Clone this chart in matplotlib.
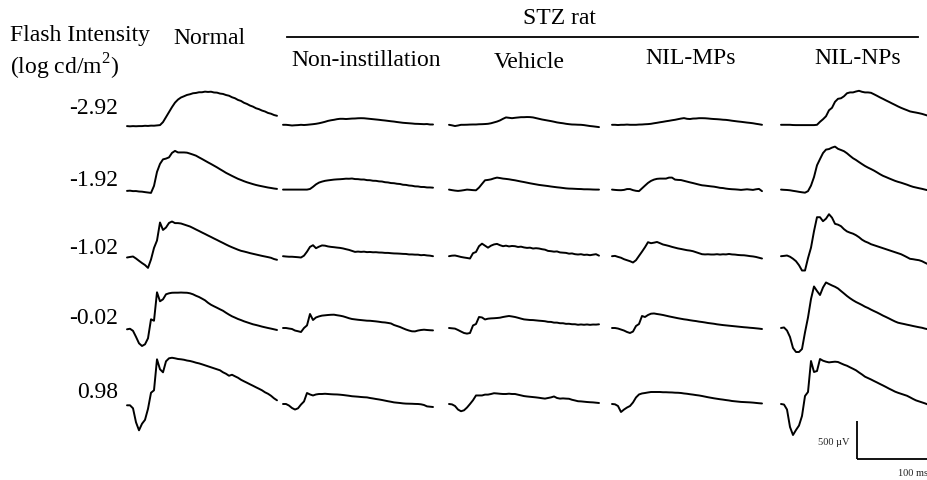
import numpy as np
import matplotlib
matplotlib.use("Agg")
import matplotlib.pyplot as plt

plt.rcParams['font.family'] = ['Liberation Serif', 'DejaVu Serif']
plt.rcParams['mathtext.fontset'] = 'custom'
plt.rcParams['mathtext.rm'] = 'Liberation Serif'

# ---------------- data ----------------
groups = ["Normal", "Non-instillation", "Vehicle", "NIL-MPs", "NIL-NPs"]
flash_intensity = ["-2.92", "-1.92", "-1.02", "-0.02", "0.98"]
sample_ms = 2.5  # sampling interval of the traces (ms)

# amplitudes in µV, one sample every 2.5 ms
normal_r1 = [0,-3,0,-2,0,0,4,2,6,5,9,13,52,117,182,247,305,345,372,388,405,414,427,431,440,440,448,444,447,437,435,423,418,404,395,375,362,340,327,303,288,267,253,232,220,202,190,171,161,144,134]
normal_r2 = [0,3,-3,-2,-8,-10,-16,-21,-26,65,247,351,410,420,436,494,520,500,500,500,497,485,472,458,436,415,393,371,350,328,306,282,259,235,215,195,176,157,142,126,112,100,88,77,68,60,52,44,38,31,26]
normal_r3 = [0,7,13,-13,-43,-72,-98,-135,-26,124,221,455,358,390,449,468,447,447,442,429,416,403,384,364,345,325,306,286,267,247,228,208,189,169,150,133,117,101,87,78,68,57,48,39,30,21,13,5,-4,-20,-30]
normal_r4 = [0,7,-20,-98,-182,-217,-195,-117,130,111,481,364,390,455,468,475,476,476,478,476,475,468,455,436,420,399,377,345,319,299,280,260,241,215,191,169,152,134,120,104,91,78,65,56,46,35,26,17,9,0,-9]
normal_r5 = [0,0,-39,-221,-325,-240,-189,-46,163,195,598,468,429,572,611,618,611,602,598,592,582,576,566,554,545,533,520,507,494,481,468,455,429,410,384,397,377,358,332,312,293,273,254,234,215,195,169,150,124,91,65]

noninst_r1 = [0,0,-4,-9,-6,-4,0,-3,0,4,8,13,20,29,39,51,59,65,73,78,78,75,78,81,82,85,86,85,81,77,73,69,65,60,56,51,46,42,36,31,26,23,20,17,13,12,10,8,10,4,4]
noninst_r2 = [0,0,0,0,0,0,0,0,0,8,36,68,91,104,114,120,125,130,133,135,138,142,141,144,137,136,131,131,123,122,115,114,107,105,96,93,85,83,76,73,63,61,53,50,42,41,34,34,28,28,25]
noninst_r3 = [0,-4,-7,-7,-10,-13,-17,7,59,121,143,104,124,140,137,127,121,117,112,108,101,91,82,69,56,60,56,59,53,55,51,52,48,47,43,43,39,36,35,33,30,29,23,23,20,20,13,16,10,7,0]
noninst_r4 = [0,0,-7,-13,-33,-42,-52,0,34,182,104,137,151,161,165,169,172,173,166,160,152,140,127,117,112,107,103,99,95,94,90,86,81,75,72,66,59,39,26,13,-4,-20,-33,-43,-44,-33,-26,-22,-26,-29,-31]
noninst_r5 = [0,0,-20,-52,-72,-56,-7,33,143,124,111,124,130,130,133,130,127,125,124,121,117,112,107,101,98,95,91,88,86,78,72,65,59,52,44,36,29,21,17,13,8,5,4,3,1,0,-4,-13,-31,-35,-39]

vehicle_r1 = [0,-7,-16,-9,0,0,1,3,4,4,7,8,10,13,20,31,42,57,78,96,91,86,91,95,99,99,101,100,96,87,78,69,62,55,48,40,31,25,20,13,8,4,3,1,0,-4,-10,-16,-20,-25,-30]
vehicle_r2 = [0,-7,-13,-17,-13,-7,0,-3,-7,-9,26,74,121,126,133,146,156,150,143,139,134,127,121,113,105,98,90,82,75,68,61,56,51,46,40,35,30,26,21,16,13,12,10,8,7,4,4,3,1,0,0]
vehicle_r3 = [0,7,9,0,-10,-17,-23,-30,39,55,130,163,137,111,137,153,160,143,130,137,127,133,130,120,124,114,108,111,100,104,100,91,85,69,65,59,62,49,46,43,33,36,26,22,26,17,20,13,20,26,7]
vehicle_r4 = [0,-4,-8,-26,-46,-65,-73,-65,33,52,143,137,111,121,125,127,130,134,143,150,156,150,143,133,122,112,108,104,103,99,95,92,88,80,79,70,70,62,62,54,55,49,49,42,46,42,46,41,45,44,48]
vehicle_r5 = [0,-5,-26,-72,-94,-82,-46,0,49,111,111,111,122,122,130,140,137,133,130,130,134,130,130,121,112,103,98,94,90,86,81,75,70,78,86,98,78,70,73,70,68,55,46,36,34,30,26,23,21,17,13]

mps_r1 = [0,0,-3,0,0,3,0,0,0,3,4,7,9,13,20,26,33,39,46,52,59,65,73,81,87,78,75,81,82,86,86,85,82,78,75,73,70,66,64,59,53,48,43,39,34,29,25,20,13,7,0]
mps_r2 = [0,-4,-7,-8,-4,7,7,-7,-16,-20,16,52,87,113,130,140,143,143,143,156,156,130,126,124,114,104,94,85,75,65,56,52,47,42,38,31,23,20,13,8,5,3,0,-4,0,4,0,-4,4,9,-20]
mps_r3 = [0,4,-9,-20,-39,-52,-65,-82,-52,4,59,117,182,169,176,185,169,152,143,133,121,111,101,94,86,78,73,65,52,39,26,23,25,22,22,26,21,25,23,29,23,21,16,13,12,7,1,-3,-10,-20,-30]
mps_r4 = [0,0,-7,-20,-33,-52,-65,-46,26,52,156,143,169,186,189,182,176,169,160,151,143,135,127,120,113,108,101,95,90,83,78,72,65,60,55,48,43,38,34,30,26,22,18,14,10,7,3,0,-4,-8,-13]
mps_r5 = [0,-4,-26,-104,-72,-46,-26,20,85,124,137,143,150,156,156,156,156,153,153,151,150,147,146,143,137,133,127,122,116,111,104,96,88,81,74,68,62,57,51,46,39,35,31,27,25,23,21,18,14,10,7]

nps_r1 = [0,0,0,0,-3,-4,-4,-4,-4,-4,-4,-4,0,39,72,111,189,221,299,338,345,371,410,421,421,433,442,429,421,421,416,397,377,356,337,317,298,278,259,239,221,205,190,174,166,159,151,142,130,118,111]
nps_r2 = [0,-3,-5,-9,-16,-22,-29,-35,-40,-20,52,163,316,397,475,520,527,546,559,530,515,499,472,439,408,385,358,332,307,286,267,247,224,200,179,163,146,130,114,101,90,77,64,49,36,27,18,10,0,-9,-13]
nps_r3 = [0,4,9,-7,-33,-65,-117,-186,-186,-26,111,325,507,507,455,488,546,501,421,410,390,351,322,306,293,273,247,215,192,176,156,143,130,117,104,91,78,65,52,39,26,7,-13,-34,-39,-46,-52,-65,-85,-104,-117]
nps_r4 = [0,7,-33,-117,-260,-312,-312,-273,-57,137,377,540,481,429,527,592,572,553,536,514,481,449,416,387,361,338,319,299,277,260,239,220,202,182,161,143,124,104,85,69,60,52,43,35,26,18,10,3,-8,-16,-22]
nps_r5 = [0,-7,-72,-299,-403,-338,-280,-156,104,156,559,416,429,585,563,550,541,546,550,546,528,511,497,477,458,438,410,384,355,337,319,299,280,260,241,221,200,181,161,146,133,120,107,87,66,47,34,21,8,-7,-13]

scale_uv = 500   # vertical scale bar (µV)
scale_ms = 100   # horizontal scale bar (ms)

columns = [
    [normal_r1, normal_r2, normal_r3, normal_r4, normal_r5],
    [noninst_r1, noninst_r2, noninst_r3, noninst_r4, noninst_r5],
    [vehicle_r1, vehicle_r2, vehicle_r3, vehicle_r4, vehicle_r5],
    [mps_r1, mps_r2, mps_r3, mps_r4, mps_r5],
    [nps_r1, nps_r2, nps_r3, nps_r4, nps_r5],
]

# ---------------- layout ----------------
W, H = 928, 480
MS_PER_PX = 2.5 / 3.0
UV_PER_PX = 13.0

fig = plt.figure(figsize=(W / 100, H / 100), dpi=100)
ax = fig.add_axes([0, 0, 1, 1])
ax.set_xlim(0, W * MS_PER_PX)
ax.set_ylim(-H * UV_PER_PX, 0)
ax.axis('off')

col_x_px = [127, 283, 449, 612, 781]
col_dy_px = [1.3, 0, 0, 0, 0]
row_y_px = [124.8, 189.6, 256.2, 328.0, 404.0]

for c, traces in enumerate(columns):
    for r, vals in enumerate(traces):
        v = np.asarray(vals, dtype=float)
        t = np.arange(len(v)) * sample_ms
        x0 = col_x_px[c] * MS_PER_PX
        y0 = -(row_y_px[r] + col_dy_px[c]) * UV_PER_PX
        ax.plot(t + x0, v + y0, color='black', lw=1.4, solid_joinstyle='round',
                solid_capstyle='round', clip_on=True)

def fx(px):
    return px / W

def fy(py):
    return 1 - py / H

FS = 17
fig.text(fx(10), fy(35), "Flash Intensity", fontsize=FS, ha='left', va='center')
fig.text(fx(10), fy(67), "(log cd/m$^2$)", fontsize=FS, ha='left', va='center')
fig.text(fx(209), fy(38), groups[0], fontsize=FS, ha='center', va='center')
fig.text(fx(559), fy(18), "STZ rat", fontsize=FS, ha='center', va='center')
fig.add_artist(plt.Line2D([fx(287), fx(918)], [fy(37), fy(37)], color='black', lw=1.3))
title_pos = [(366, 60), (529, 62), (691, 58), (858, 59)]
for name, (px, py) in zip(groups[1:], title_pos):
    fig.text(fx(px), fy(py), name, fontsize=FS, ha='center', va='center')

label_y = [108, 181, 248, 318, 393]
for lab, py in zip(flash_intensity, label_y):
    fig.text(fx(118), fy(py), lab, fontsize=FS, ha='right', va='center')

# scale bar
bx = 857 * MS_PER_PX
by = -459 * UV_PER_PX
ax.plot([bx, bx], [by, by + scale_uv], color='black', lw=1.3, solid_capstyle='butt')
ax.plot([bx, bx + scale_ms], [by, by], color='black', lw=1.3, solid_capstyle='butt')
ax.text(bx - 7 * MS_PER_PX, by + scale_uv * 0.42, f"{scale_uv} \u00b5V", fontsize=7.5,
        ha='right', va='center', color='#222222')
ax.text(bx + 41 * MS_PER_PX, by - 15 * UV_PER_PX, f"{scale_ms} ms", fontsize=7.5,
        ha='left', va='center', color='#222222')

fig.savefig("out.png", dpi=100)
